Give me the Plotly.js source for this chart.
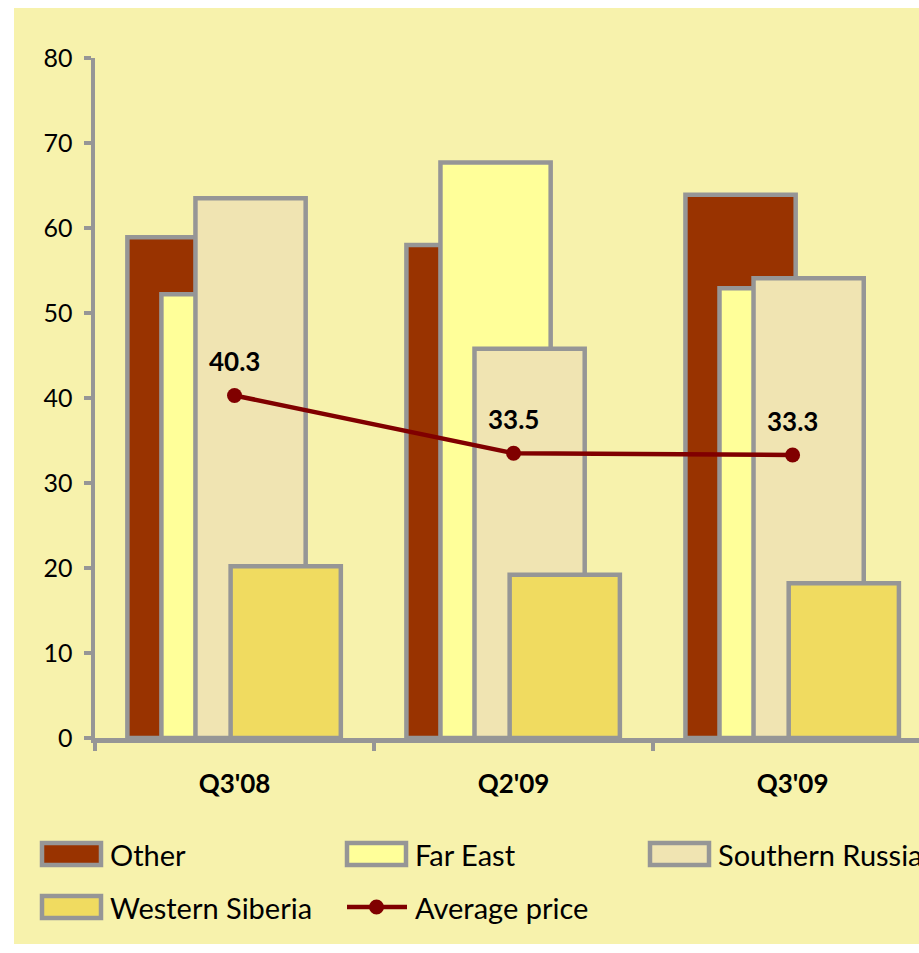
<!DOCTYPE html>
<html>
<head>
<meta charset="utf-8">
<script src="https://cdn.plot.ly/plotly-3.0.1.min.js"></script>
<style>html,body{margin:0;padding:0;background:#fff;}#chart{width:919px;height:953px;}</style>
</head>
<body>
<div id="chart"></div>
<script>
// ---- data ----
const categories = ["Q3'08", "Q2'09", "Q3'09"];
const other = [58.9, 58.0, 63.9];
const farEast = [52.2, 67.7, 52.9];
const southernRussia = [63.5, 45.8, 54.1];
const westernSiberia = [20.2, 19.2, 18.2];
const avgPrice = [40.3, 33.5, 33.3];
const seriesNames = ["Other", "Far East", "Southern Russia", "Western Siberia", "Average price"];
const yTicks = [0, 10, 20, 30, 40, 50, 60, 70, 80];

// ---- styling ----
const FONT = "Lato, 'Open Sans', sans-serif";
const GRAY = "#969696";
const BG = "#F7F2AC";
const colors = ["#993300", "#FFFF99", "#F0E4B2", "#F0DB60"];
const lineColor = "#800000";
const barWidth = 0.395;
const barOffsets = [-0.384, -0.262, -0.140, -0.014];
const LW = 4.5;

const barSeries = [other, farEast, southernRussia, westernSiberia];
const traces = barSeries.map((vals, i) => ({
  type: "bar",
  name: seriesNames[i],
  x: categories,
  y: vals,
  width: barWidth,
  offset: barOffsets[i],
  marker: {color: colors[i], line: {color: GRAY, width: LW}},
  hoverinfo: "x+y+name"
}));
traces.push({
  type: "scatter",
  mode: "lines+markers",
  name: seriesNames[4],
  x: categories,
  y: avgPrice,
  line: {color: lineColor, width: 4.5},
  marker: {color: lineColor, size: 15}
});

// pixel -> paper helpers (plot area: x 95..919, y 58..738)
const L = 95, R = 919, T = 58, B = 738;
const px = v => (v - L) / (R - L);
const py = v => (B - v) / (B - T);

const shapes = [{
  type: "rect", xref: "paper", yref: "paper", layer: "below",
  x0: px(14), x1: px(919), y0: py(944), y1: py(8),
  fillcolor: BG, line: {width: 0}
}];
const annotations = [];

// data labels
avgPrice.forEach((v, i) => {
  annotations.push({
    x: categories[i], y: v, xref: "x", yref: "y",
    text: "<b>" + v.toFixed(1) + "</b>", showarrow: false,
    yshift: 34, font: {family: FONT, size: 26, color: "#000"}
  });
});

// custom legend
const legendPos = [
  {x: 42, y: 854}, {x: 347, y: 854}, {x: 650, y: 854},
  {x: 42, y: 907}, {x: 347, y: 907}
];
seriesNames.forEach((name, i) => {
  const p = legendPos[i];
  if (i < 4) {
    shapes.push({
      type: "rect", xref: "paper", yref: "paper",
      x0: px(p.x), x1: px(p.x + 59), y0: py(p.y + 11), y1: py(p.y - 11),
      fillcolor: colors[i], line: {color: GRAY, width: LW}
    });
  } else {
    shapes.push({
      type: "line", xref: "paper", yref: "paper",
      x0: px(p.x), x1: px(p.x + 60), y0: py(p.y), y1: py(p.y),
      line: {color: lineColor, width: 4.5}
    });
    shapes.push({
      type: "circle", xref: "paper", yref: "paper",
      x0: px(p.x + 22), x1: px(p.x + 37), y0: py(p.y + 7.5), y1: py(p.y - 7.5),
      fillcolor: lineColor, line: {color: lineColor, width: 0}
    });
  }
  annotations.push({
    xref: "paper", yref: "paper", x: px(p.x + 66), y: py(p.y),
    xanchor: "left", yanchor: "middle", showarrow: false,
    text: name, font: {family: FONT, size: 29, color: "#000"}
  });
});

const layout = {
  width: 919, height: 953,
  autosize: false,
  margin: {l: L, r: 0, t: T, b: 953 - B, pad: 0},
  paper_bgcolor: "#ffffff",
  plot_bgcolor: "rgba(0,0,0,0)",
  barmode: "overlay",
  showlegend: false,
  font: {family: FONT, color: "#000"},
  xaxis: {
    type: "category",
    range: [-0.5, 2.453],
    showline: true, linecolor: GRAY, linewidth: LW,
    ticks: "outside", tickson: "boundaries", ticklen: 8, tickwidth: 3.5, tickcolor: GRAY,
    showgrid: false, zeroline: false,
    tickfont: {family: FONT, size: 26, color: "#000", weight: "bold"},
    ticklabelstandoff: 19
  },
  yaxis: {
    range: [0, 80],
    tickvals: yTicks,
    showline: true, linecolor: GRAY, linewidth: LW,
    ticks: "outside", ticklen: 7, tickwidth: 3.5, tickcolor: GRAY,
    showgrid: false, zeroline: false,
    tickfont: {family: FONT, size: 25, color: "#000"},
    ticklabelstandoff: 6
  },
  shapes: shapes,
  annotations: annotations
};

Plotly.newPlot("chart", traces, layout, {displayModeBar: false, staticPlot: true});
</script>
</body>
</html>
